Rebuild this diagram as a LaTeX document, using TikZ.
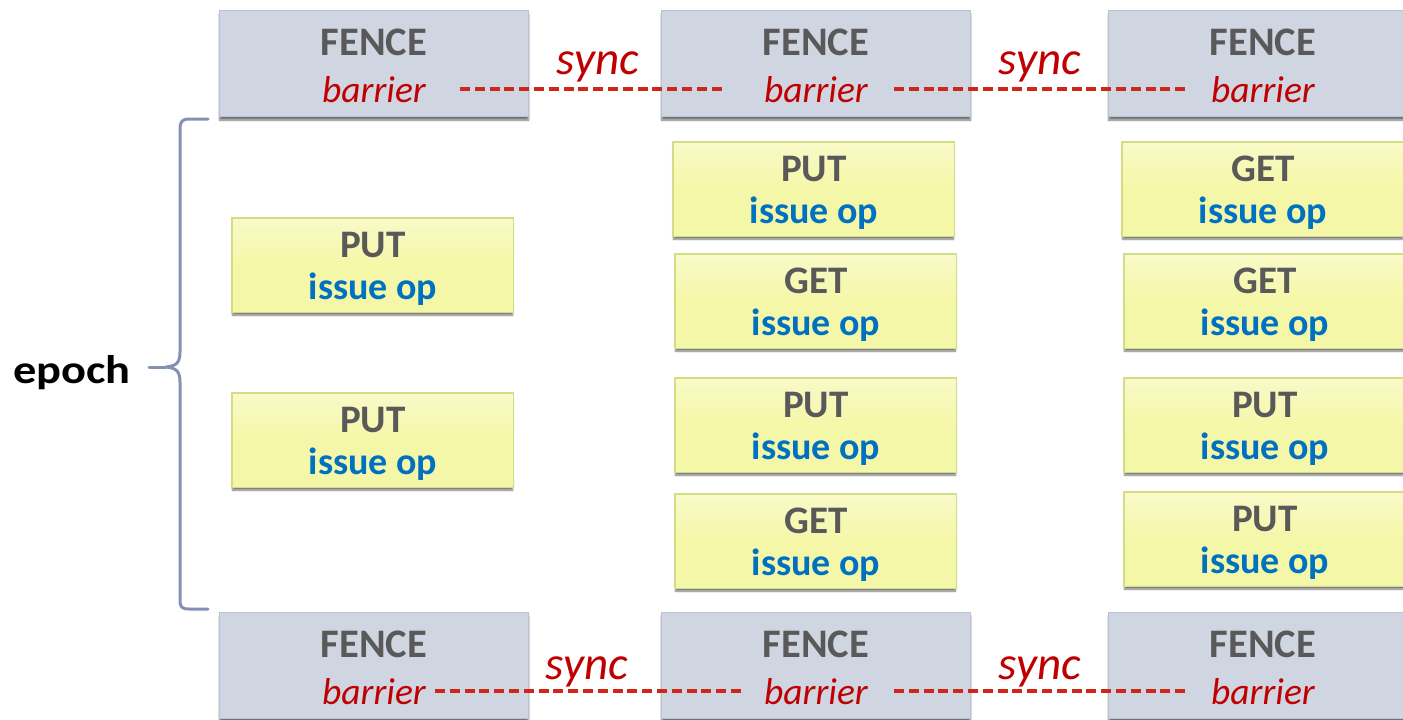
\documentclass[tikz,border=0pt]{standalone}
\usepackage{fontspec}
\setmainfont{Carlito}
\usetikzlibrary{shadows.blur}

\definecolor{fencefill}{HTML}{D0D5E2}
\definecolor{fenceline}{HTML}{B6C2D6}
\definecolor{opfill}{HTML}{F5F7A8}
\definecolor{opfilllight}{HTML}{F9FAC8}
\definecolor{opline}{HTML}{D6DB86}
\definecolor{titlegray}{HTML}{595959}
\definecolor{opblue}{HTML}{0070C0}
\definecolor{syncred}{HTML}{C00000}
\definecolor{dashred}{HTML}{D0261A}
\definecolor{bracecol}{HTML}{8591B4}

\tikzset{
  boxshadow/.style={blur shadow={shadow xshift=0pt, shadow yshift=-3.5pt,
      shadow blur steps=6, shadow opacity=55}},
  fencebox/.style={draw=fenceline, line width=1.2pt, fill=fencefill,
      minimum width=309pt, minimum height=106pt, inner sep=0pt,
      anchor=north west, boxshadow},
  opbox/.style={draw=opline, line width=1.2pt, fill=opfill,
      minimum width=280pt, minimum height=93pt, inner sep=0pt,
      anchor=north west, boxshadow,
      postaction={path picture={
        \shade[shading=axis, shading angle=60,
          top color=opfilllight, bottom color=opfill, middle color=opfill]
          (path picture bounding box.south west) rectangle
          (path picture bounding box.north east);}}},
  fencetitle/.style={font=\fontsize{40.5}{40}\selectfont\bfseries,
      text=titlegray, inner sep=0pt, anchor=base},
  titletext/.style={font=\fontsize{39}{39}\selectfont\bfseries,
      text=titlegray, inner sep=0pt, anchor=base},
  optext/.style={font=\fontsize{38}{38}\selectfont\bfseries,
      text=opblue, inner sep=0pt, anchor=base},
  barriertext/.style={font=\fontsize{37.5}{38}\selectfont\itshape,
      text=syncred, inner sep=0pt, anchor=base},
  synctext/.style={font=\fontsize{47}{47}\selectfont\itshape,
      text=syncred, inner sep=0pt, anchor=base},
  syncline/.style={draw=dashred, line width=4pt, dash pattern=on 10pt off 4.8pt},
  epochbrace/.style={draw=bracecol, line width=3pt, line cap=round, line join=round},
}

% fence box: name, left, top
\newcommand\FenceBox[3]{%
  \node[fencebox] (#1) at (#2,#3) {};
  \node[fencetitle] (#1-t) at ([xshift=155pt,yshift=-45.5pt]#1.north west) {FENCE};
  \node[barriertext] (#1-b) at ([xshift=155pt,yshift=-92pt]#1.north west) {barrier};
}
% operation box: name, left, top, operation
\newcommand\OpBox[4]{%
  \node[opbox] (#1) at (#2,#3) {};
  \draw[opline, line width=1.2pt] (#1.south west) rectangle (#1.north east);
  \node[titletext] (#1-t) at ([xshift=141pt,yshift=-39pt]#1.north west) {#4};
  \node[optext] (#1-s) at ([xshift=141pt,yshift=-81pt]#1.north west) {issue op};
}

\begin{document}
\begin{tikzpicture}[x=1pt, y=-1pt]
\path[use as bounding box] (0,0) rectangle (1403,720);
\clip (0,0) rectangle (1403,720);

% fences opening and closing the epoch
\FenceBox{ft1}{219}{10}
\FenceBox{ft2}{661}{10}
\FenceBox{ft3}{1108}{10}
\FenceBox{fb1}{219}{612}
\FenceBox{fb2}{661}{612}
\FenceBox{fb3}{1108}{612}

% operations issued inside the epoch
\OpBox{a1}{232}{218}{PUT}
\OpBox{a2}{232}{393}{PUT}
\OpBox{b1}{673}{142}{PUT}
\OpBox{b2}{675}{254}{GET}
\OpBox{b3}{675}{378}{PUT}
\OpBox{b4}{675}{494}{GET}
\OpBox{c1}{1122}{142}{GET}
\OpBox{c2}{1124}{254}{GET}
\OpBox{c3}{1124}{378}{PUT}
\OpBox{c4}{1124}{492}{PUT}

% barrier synchronisation between the processes
\draw[syncline, shorten <=34pt, shorten >=42pt]
  ([yshift=13pt]ft1-b.base east) -- ([yshift=13pt]ft2-b.base west);
\draw[syncline, shorten <=26pt, shorten >=25pt]
  ([yshift=13pt]ft2-b.base east) -- ([yshift=13pt]ft3-b.base west);
\draw[syncline, shorten <=9pt, shorten >=22pt]
  ([yshift=13pt]fb1-b.base east) -- ([yshift=13pt]fb2-b.base west);
\draw[syncline, shorten <=26pt, shorten >=25pt]
  ([yshift=13pt]fb2-b.base east) -- ([yshift=13pt]fb3-b.base west);

\node[synctext] (st1) at (598,74) {sync};
\node[synctext] (st2) at (1040,74) {sync};
\node[synctext] (sb1) at (587,679) {sync};
\node[synctext] (sb2) at (1040,679) {sync};

% the epoch brace
\draw[epochbrace]
  (208,119) -- (189,119) .. controls (182,119) and (180,122) .. (180,129)
  -- (180,352) .. controls (180,362) and (177,366) .. (166,367)
  .. controls (177,368) and (180,372) .. (180,382)
  -- (180,601) .. controls (180,607) and (182,609) .. (189,609) -- (208,609);
\coordinate (tip) at (166,367);
\coordinate (tipend) at (149,367);
\draw[epochbrace] (tip) -- (tipend);
\node[font=\fontsize{40}{40}\selectfont\bfseries, inner sep=0pt, anchor=base,
  xscale=1.16, transform shape] (epoch) at (72,383) {epoch};
\end{tikzpicture}
\end{document}
